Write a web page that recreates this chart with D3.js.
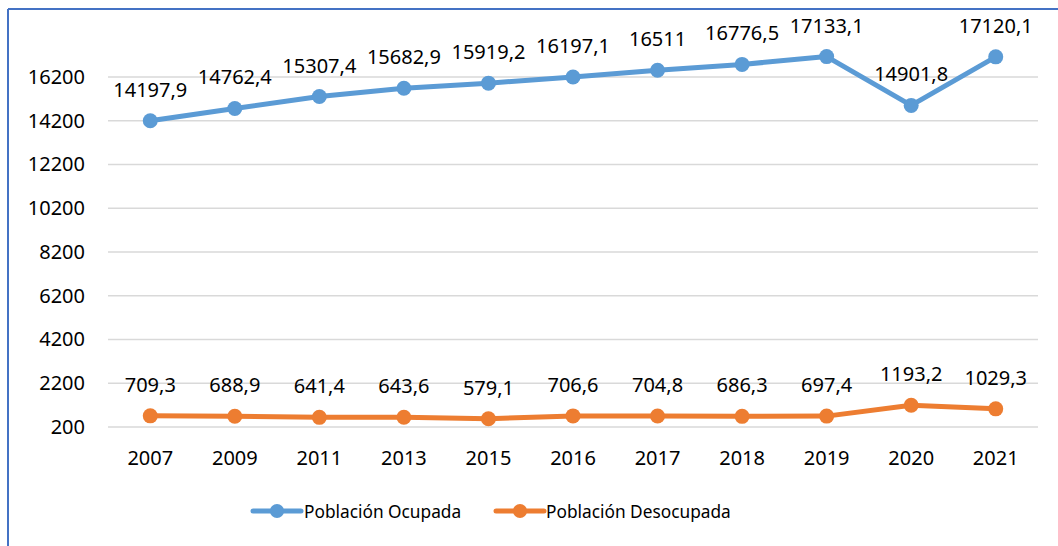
<!DOCTYPE html>
<html><head><meta charset="utf-8">
<script src="https://cdn.jsdelivr.net/npm/d3@7"></script>
<style>body{margin:0;background:#fff;} svg{display:block;font-family:"Noto Sans",sans-serif;}</style>
</head><body>
<svg id="c" width="1058" height="546"></svg>
<script>
const years = ["2007","2009","2011","2013","2015","2016","2017","2018","2019","2020","2021"];
const ocupada = [14197.9,14762.4,15307.4,15682.9,15919.2,16197.1,16511,16776.5,17133.1,14901.8,17120.1];
const desocupada = [709.3,688.9,641.4,643.6,579.1,706.6,704.8,686.3,697.4,1193.2,1029.3];
const yTicks = [200,2200,4200,6200,8200,10200,12200,14200,16200];
const seriesNames = ["Población Ocupada","Población Desocupada"];
const colors = ["#5B9BD5","#ED7D31"];

const svg = d3.select("#c");
// frame
svg.append("line").attr("x1",8).attr("x2",1058).attr("y1",9).attr("y2",9).attr("stroke","#4472C4").attr("stroke-width",2);
svg.append("line").attr("x1",8).attr("x2",8).attr("y1",9).attr("y2",546).attr("stroke","#4472C4").attr("stroke-width",2);

const x = d3.scaleBand().domain(years).range([108,1038]);
const y = d3.scaleLinear().domain([200,18000]).range([427,427-17800/2000*43.75]);

// gridlines
svg.append("g").selectAll("line").data(yTicks).join("line")
  .attr("x1",108).attr("x2",1038).attr("y1",d=>y(d)).attr("y2",d=>y(d))
  .attr("stroke","#D9D9D9").attr("stroke-width",1.3);

const yAxis = svg.append("g").attr("transform","translate(93,0)")
  .call(d3.axisLeft(y).tickValues(yTicks).tickSize(0).tickPadding(8).tickFormat(d=>String(d)));
yAxis.select(".domain").remove();
yAxis.selectAll("text").attr("font-size",20).attr("fill","#000").attr("font-family","Noto Sans");

const xAxis = svg.append("g").attr("transform","translate(0,427)")
  .call(d3.axisBottom(x).tickSize(0).tickPadding(24));
xAxis.select(".domain").remove();
xAxis.selectAll("text").attr("font-size",20).attr("fill","#000").attr("font-family","Noto Sans");

const cx = d=>x(d)+x.bandwidth()/2;
const fmt = v=>String(v).replace(".",",");
[ocupada,desocupada].forEach((vals,i)=>{
  const pts = years.map((yr,j)=>[cx(yr),y(vals[j]),vals[j]]);
  svg.append("path").attr("d",d3.line()(pts.map(p=>[p[0],p[1]])))
    .attr("fill","none").attr("stroke",colors[i]).attr("stroke-width",5).attr("stroke-linejoin","round").attr("stroke-linecap","round");
  svg.append("g").selectAll("circle").data(pts).join("circle")
    .attr("cx",p=>p[0]).attr("cy",p=>p[1]).attr("r",7.5).attr("fill",colors[i]);
  svg.append("g").selectAll("text").data(pts).join("text")
    .attr("x",p=>p[0]).attr("y",p=>p[1]-24).attr("text-anchor","middle")
    .attr("font-size",20).attr("fill","#000").text(p=>fmt(p[2]));
});

// legend
const leg = [{x0:253,tx:304},{x0:496,tx:546}];
leg.forEach((l,i)=>{
  svg.append("line").attr("x1",l.x0).attr("x2",l.x0+48).attr("y1",511).attr("y2",511)
    .attr("stroke",colors[i]).attr("stroke-width",5).attr("stroke-linecap","round");
  svg.append("circle").attr("cx",l.x0+24).attr("cy",511).attr("r",7).attr("fill",colors[i]);
  svg.append("text").attr("x",l.tx).attr("y",518).attr("font-size",17.3).attr("fill","#000").text(seriesNames[i]);
});
</script>
</body></html>
